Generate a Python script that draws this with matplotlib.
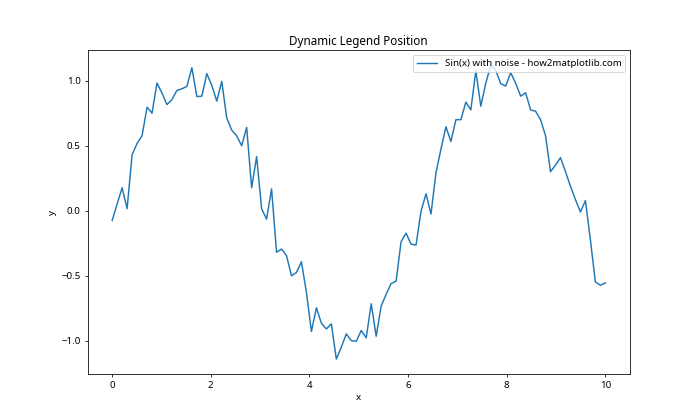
import numpy as np
import matplotlib
matplotlib.use("Agg")
import matplotlib.pyplot as plt

plt.rcParams["font.family"] = ["Noto Sans", "DejaVu Sans"]

# values (100 samples of sin(x) + noise)
x = np.linspace(0, 10, 100)
y = [
    -0.075, 0.052, 0.176, 0.015, 0.43, 0.517, 0.576, 0.796, 0.75, 0.982,
    0.905, 0.816, 0.855, 0.925, 0.938, 0.956, 1.10, 0.878, 0.881, 1.054,
    0.964, 0.843, 0.995, 0.713, 0.62, 0.576, 0.499, 0.641, 0.176, 0.416,
    0.015, -0.065, 0.168, -0.32, -0.295, -0.346, -0.501, -0.475, -0.393, -0.63,
    -0.93, -0.747, -0.866, -0.91, -0.871, -1.142, -1.05, -0.948, -1.0, -1.005,
    -0.922, -0.979, -0.716, -0.966, -0.734, -0.643, -0.561, -0.543, -0.238, -0.173,
    -0.258, -0.264, -0.005, 0.13, -0.026, 0.292, 0.473, 0.646, 0.532, 0.70,
    0.70, 0.835, 0.775, 1.075, 0.804, 0.98, 1.12, 1.08, 0.977, 0.959,
    1.062, 0.98, 0.881, 0.907, 0.775, 0.765, 0.70, 0.576, 0.30, 0.351,
    0.408, 0.30, 0.188, 0.085, -0.01, 0.078, -0.225, -0.548, -0.574, -0.556,
]
label = "Sin(x) with noise - how2matplotlib.com"

fig, ax = plt.subplots(figsize=(10, 6), dpi=70)
ax.plot(x, y, label=label)
ax.set_title("Dynamic Legend Position")
ax.set_xlabel("x")
ax.set_ylabel("y")
ax.legend(loc="upper right")

fig.savefig("out.png")
